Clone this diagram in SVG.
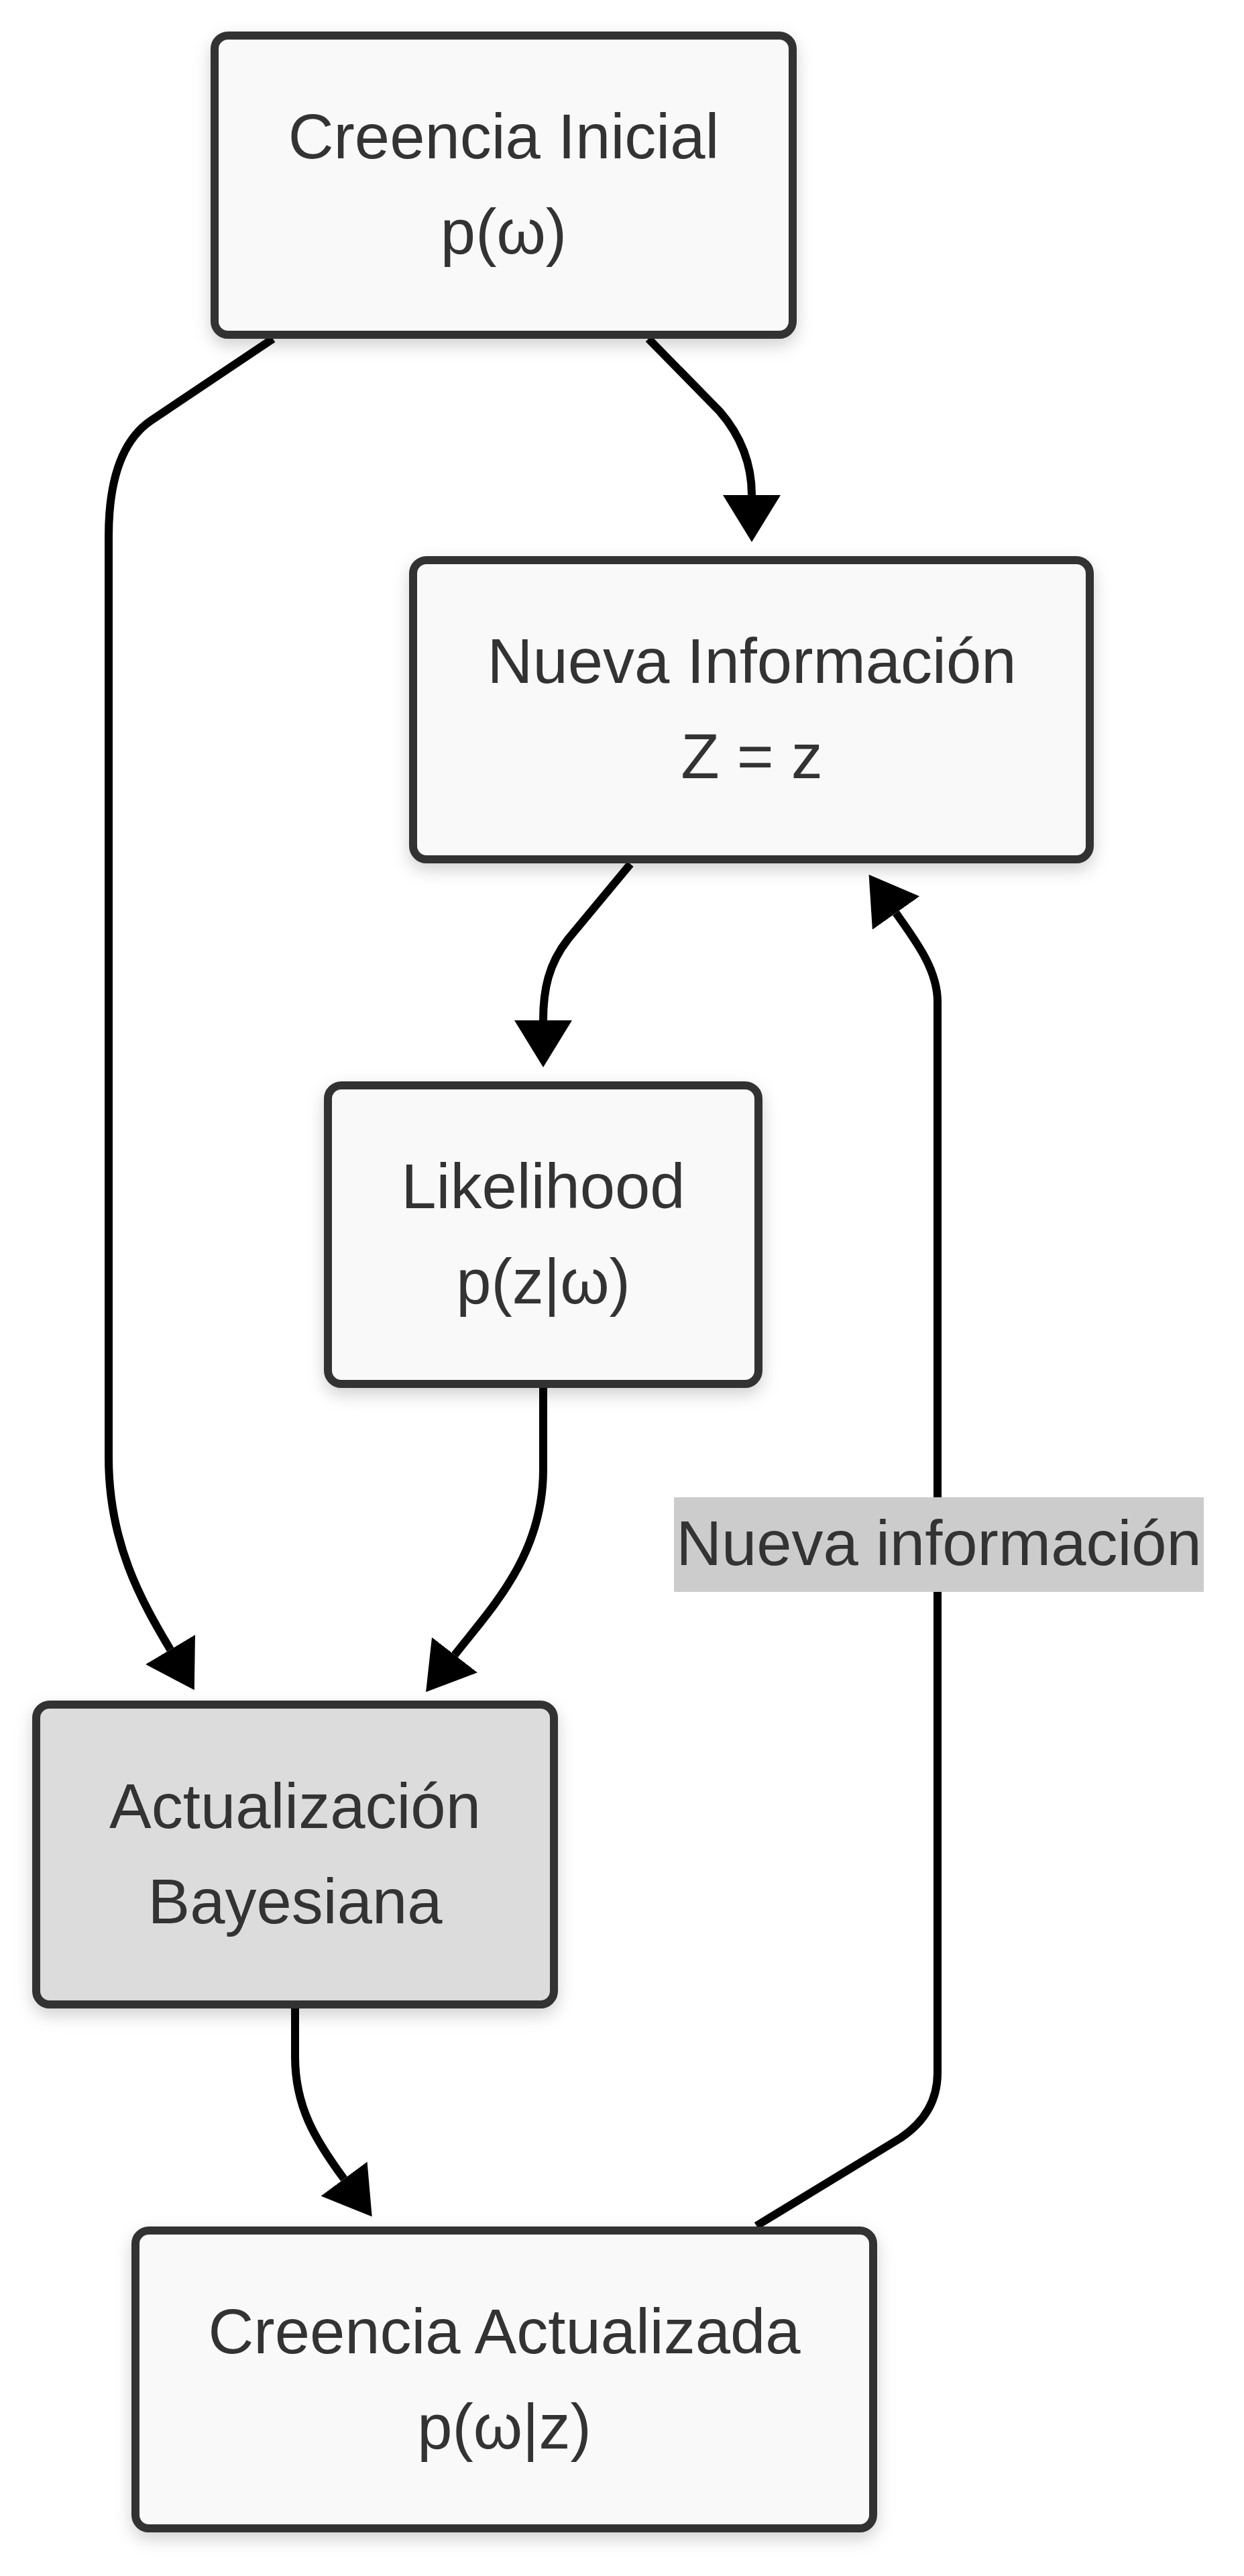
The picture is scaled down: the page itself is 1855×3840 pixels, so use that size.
<svg xmlns="http://www.w3.org/2000/svg" width="1855" height="3840" viewBox="0 0 1855 3840">
  <defs>
    <filter id="shadow" x="-10%" y="-10%" width="120%" height="130%">
      <feDropShadow dx="0" dy="10" stdDeviation="12" flood-color="#000" flood-opacity="0.18"/>
    </filter>
    <marker id="arrow" markerUnits="userSpaceOnUse" markerWidth="70" markerHeight="86" viewBox="0 0 70 86" refX="0" refY="43" orient="auto">
      <path d="M0,0 L70,43 L0,86 z" fill="#000"/>
    </marker>
  </defs>
  <style>
    .node rect { fill: #f9f9f9; stroke: #333; stroke-width: 12; filter: url(#shadow); }
    .node.proc rect { fill: #dcdcdc; }
    .node text, .label text { font-family: "Liberation Sans", Arial, sans-serif; font-size: 94px; fill: #333; text-anchor: middle; }
    .edge { fill: none; stroke: #000; stroke-width: 12; marker-end: url(#arrow); }
    .label rect { fill: #cccccc; }
  </style>
  <rect width="1855" height="3840" fill="#fff"/>

  <g id="connectors">
    <path class="edge" d="M967,505 L1073,613 C1105,650 1121,690 1121,738"/>
    <path class="edge" d="M407,505 L225,627 Q162,670 162,800 L162,2172 C162,2300 210,2385 254,2459"/>
    <path class="edge" d="M940,1288 L847,1400 C818,1437 810,1475 810,1521"/>
    <path class="edge" d="M810,2069 L810,2191 C810,2320 730,2400 678,2467"/>
    <path class="edge" d="M440,2994 L440,3066 C440,3140 470,3190 513,3248"/>
    <path class="edge" d="M1128,3318 L1343,3187 Q1398,3150 1398,3090 L1398,1493 C1398,1445 1365,1402 1336,1361"/>
    <g class="label" id="label-loop">
      <rect x="1005" y="2232" width="790" height="141"/>
      <text x="1400" y="2333">Nueva información</text>
    </g>
  </g>

  <g id="node-creencia-inicial" class="node">
    <rect x="320" y="53" width="862" height="446" rx="20" ry="20"/>
    <text x="751" y="236">Creencia Inicial</text>
    <text x="751" y="378">p(ω)</text>
  </g>

  <g id="node-nueva-informacion" class="node">
    <rect x="616" y="835" width="1009" height="446" rx="20" ry="20"/>
    <text x="1121" y="1018">Nueva Información</text>
    <text x="1121" y="1160">Z = z</text>
  </g>

  <g id="node-likelihood" class="node">
    <rect x="489" y="1618" width="642" height="445" rx="20" ry="20"/>
    <text x="810" y="1801">Likelihood</text>
    <text x="810" y="1943">p(z|ω)</text>
  </g>

  <g id="node-actualizacion" class="node proc">
    <rect x="54" y="2541" width="772" height="447" rx="20" ry="20"/>
    <text x="440" y="2725">Actualización</text>
    <text x="440" y="2867">Bayesiana</text>
  </g>

  <g id="node-creencia-actualizada" class="node">
    <rect x="202" y="3325" width="1100" height="444" rx="20" ry="20"/>
    <text x="752" y="3508">Creencia Actualizada</text>
    <text x="752" y="3650">p(ω|z)</text>
  </g>
</svg>
